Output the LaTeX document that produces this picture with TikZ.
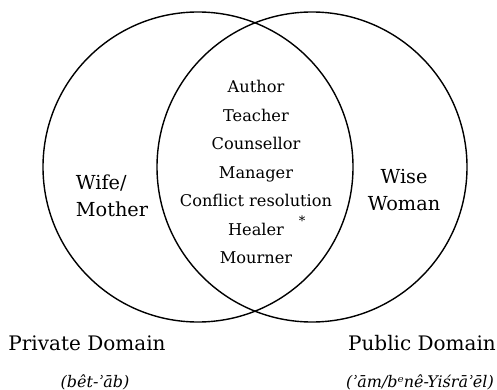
\documentclass[tikz,border=0pt]{standalone}
\usepackage{fontspec}
\setmainfont{DejaVu Serif}
\usetikzlibrary{positioning}

\begin{document}
\begin{tikzpicture}[x=1pt, y=-1pt,
			% Define styles
			domaincircle/.style={circle, draw=black, line width=1.4pt, minimum size=310pt, inner sep=0pt},
			roles/.style={font=\fontsize{16.2}{28.5}\selectfont, align=center},
			sidetext/.style={font=\fontsize{19.3}{27}\selectfont},
			domainlabel/.style={font=\fontsize{20}{22}\selectfont},
			translit/.style={font=\fontsize{16}{18}\selectfont\itshape}
			]
			\useasboundingbox (0,0) rectangle (497,390);
			
			% The two overlapping domains
			\node[domaincircle] (private) at (198,167) {};
			\node[domaincircle] (public) at (312,167) {};
			
			% Roles shared by both domains
			\node[roles] (shared) at (256,172) {Author\\Teacher\\Counsellor\\Manager\\Conflict resolution\\Healer\\Mourner};
			\node[font=\fontsize{13}{14}\selectfont] (star) at (302,221) {*};
			
			% Roles of one domain only
			\node[sidetext, align=left] (wife) at (112,196) {Wife/\\Mother};
			\node[sidetext, align=center] (wise) at (404,190) {Wise\\Woman};
			
			% Domain names
			\node[domainlabel] (privname) at (87,343) {Private Domain};
			\node[translit] (privheb) at (95,382) {(bêt-ʾāb)};
			\node[domainlabel] (pubname) at (422,343) {Public Domain};
			\node[translit] (pubheb) at (420,382) {(ʾām/bᵉnê-Yiśrāʾēl)};
			
		\end{tikzpicture}
\end{document}
